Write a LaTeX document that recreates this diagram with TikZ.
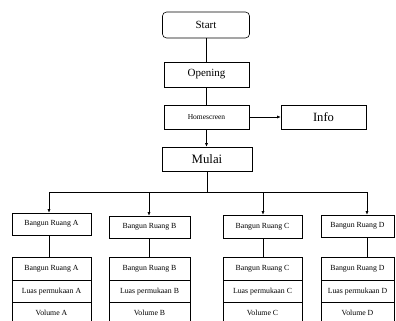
\documentclass[tikz,border=0pt]{standalone}
\usepackage{fontspec}
\setmainfont{Liberation Serif}
\usetikzlibrary{arrows.meta}

\begin{document}
\begin{tikzpicture}[x=1pt,y=-1pt,line width=0.6pt,
    box/.style={draw,inner sep=0pt,align=center},
    cell/.style={box,minimum height=22.5pt,font=\fontsize{7.8}{9}\selectfont},
    arr/.style={-{Latex[length=3.5pt,width=3pt]}}]
    \useasboundingbox (0,0) rectangle (396,321);
    % top chain
    \node[box,rounded corners=4pt,minimum width=87pt,minimum height=26pt,font=\fontsize{11}{13}\selectfont] (start) at (206,25) {Start};
    \node[box,minimum width=85pt,minimum height=25pt,font=\fontsize{11}{13}\selectfont] (opening) at (206.5,74.5) {Opening};
    \node[box,minimum width=85pt,minimum height=24pt,font=\fontsize{7.5}{9}\selectfont] (home) at (206.5,117) {Homescreen};
    \node[box,minimum width=85pt,minimum height=24pt,font=\fontsize{12.6}{15}\selectfont] (info) at (323.5,117) {Info};
    \node[box,minimum width=90pt,minimum height=24pt,font=\fontsize{12.8}{15}\selectfont] (mulai) at (207,159) {Mulai};
    \draw (opening.north) -- (opening.north |- start.south);
    \draw (opening) -- (home);
    \draw[arr] (home) -- (info);
    \draw[arr] (home.south) -- (home.south |- mulai.north);
    % bus
    \coordinate (bus) at (207,192);
    \coordinate (dA) at (49,192);
    \coordinate (dB) at (149,192);
    \coordinate (dC) at (263,192);
    \coordinate (dD) at (367,192);
    \draw (mulai) -- (bus);
    \draw (dA) -- (dD);
    % shapes
    \node[cell,minimum width=79pt,minimum height=22pt] (bA) at (51.5,224) {Bangun Ruang A};
    \node[cell,minimum width=81pt,minimum height=22pt] (bB) at (149.5,227) {Bangun Ruang B};
    \node[cell,minimum width=79pt,minimum height=23pt] (bC) at (262.5,226.5) {Bangun Ruang C};
    \node[cell,minimum width=73pt,minimum height=22pt] (bD) at (357.5,226) {Bangun Ruang D};
    \draw[arr] (dA) -- (dA |- bA.north);
    \draw[arr] (dB) -- (dB |- bB.north);
    \draw[arr] (dC) -- (dC |- bC.north);
    \draw[arr] (dD) -- (dD |- bD.north);
    % detail stacks
    \begin{scope}
    \clip (0,0) rectangle (396,321);
    \foreach \s/\x/\w in {A/51.5/79,B/149.5/81,C/262.5/79,D/357.5/73}{
      \node[cell,minimum width=\w pt] (n\s) at (\x,268.75) {Bangun Ruang \s};
      \node[cell,minimum width=\w pt] (l\s) at (\x,291.25) {Luas permukaan \s};
      \node[cell,minimum width=\w pt,minimum height=21pt] (v\s) at (\x,312.5) {Volume \s};
    }
    \end{scope}
    \draw (dA |- bA.south) -- (dA |- nA.north);
    \draw (dB |- bB.south) -- (dB |- nB.north);
    \draw (dC |- bC.south) -- (dC |- nC.north);
    \draw (dD |- bD.south) -- (dD |- nD.north);
\end{tikzpicture}
\end{document}
